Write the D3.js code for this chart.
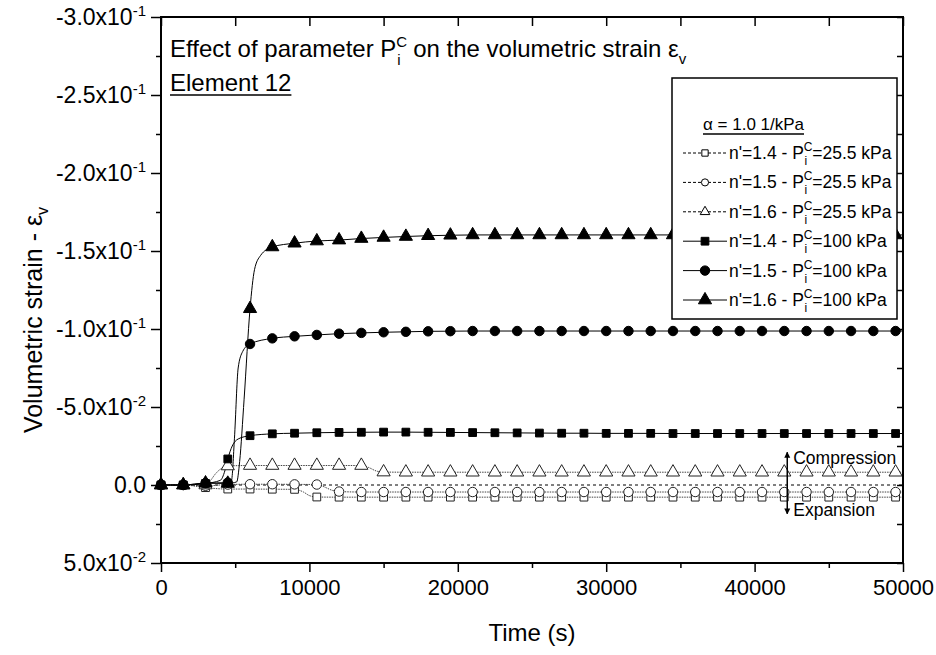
<!DOCTYPE html>
<html>
<head>
<meta charset="utf-8">
<title>Volumetric strain</title>
<script src="https://d3js.org/d3.v7.min.js"></script>
<style>
  body { margin: 0; background: #fff; }
  svg text { font-family: "Liberation Sans", Arial, sans-serif; fill: #000; }
</style>
</head>
<body>
<script>
// values: [time (s), volumetric strain] (negative = compression)
var sq25 = [[0,0],[1500,0],[3000,0.0017],[4500,0.0026],[6000,0.0026],[7500,0.0027],[9000,0.0028],[9600,0.0045],[10000,0.0068],[10500,0.0077],[12000,0.0078],[13500,0.0078],[15000,0.0078],[16500,0.0078],[18000,0.0078],[19500,0.0078],[21000,0.0078],[22500,0.0078],[24000,0.0078],[25500,0.0078],[27000,0.0078],[28500,0.0078],[30000,0.0078],[31500,0.0078],[33000,0.0078],[34500,0.0078],[36000,0.0078],[37500,0.0078],[39000,0.0078],[40500,0.0078],[42000,0.0078],[43500,0.0078],[45000,0.0078],[46500,0.0078],[48000,0.0078],[49500,0.0078],[50000,0.0078]];
var ci25 = [[0,0],[1500,0],[3000,0.0005],[4500,-0.0003],[6000,-0.0005],[7500,-0.0005],[9000,-0.0004],[10500,-0.0003],[11000,0.0012],[11500,0.0033],[12000,0.0042],[13500,0.0045],[15000,0.0045],[16500,0.0045],[18000,0.0045],[19500,0.0045],[21000,0.0045],[22500,0.0045],[24000,0.0045],[25500,0.0045],[27000,0.0045],[28500,0.0045],[30000,0.0045],[31500,0.0045],[33000,0.0045],[34500,0.0045],[36000,0.0045],[37500,0.0045],[39000,0.0045],[40500,0.0045],[42000,0.0045],[43500,0.0045],[45000,0.0045],[46500,0.0045],[48000,0.0045],[49500,0.0045],[50000,0.0045]];
var tr25 = [[0,0],[1500,0],[3000,0],[3300,-0.0025],[3700,-0.0075],[4100,-0.0108],[4500,-0.0122],[6000,-0.0125],[7500,-0.0125],[9000,-0.0125],[10500,-0.0125],[12000,-0.0125],[13500,-0.0125],[14000,-0.0112],[14500,-0.009],[15000,-0.0083],[16500,-0.0082],[18000,-0.0082],[19500,-0.0082],[21000,-0.0082],[22500,-0.0082],[24000,-0.0082],[25500,-0.0082],[27000,-0.0082],[28500,-0.0082],[30000,-0.0082],[31500,-0.0082],[33000,-0.0082],[34500,-0.0082],[36000,-0.0082],[37500,-0.0082],[39000,-0.0082],[40500,-0.0082],[42000,-0.0082],[43500,-0.0082],[45000,-0.0082],[46500,-0.0082],[48000,-0.0082],[49500,-0.0082],[50000,-0.0082]];
var sq100 = [[0,0],[1500,0],[3000,-0.001],[4000,-0.003],[4300,-0.009],[4500,-0.0167],[4800,-0.025],[5200,-0.0295],[6000,-0.0316],[7500,-0.0328],[9000,-0.0332],[10500,-0.0335],[12000,-0.0337],[13500,-0.0338],[15000,-0.0339],[16500,-0.0339],[18000,-0.0338],[19500,-0.0337],[21000,-0.0336],[22500,-0.0335],[24000,-0.0334],[25500,-0.0333],[27000,-0.0332],[28500,-0.0332],[30000,-0.0331],[31500,-0.0331],[33000,-0.0331],[34500,-0.033],[36000,-0.033],[37500,-0.033],[39000,-0.033],[40500,-0.033],[42000,-0.033],[43500,-0.033],[45000,-0.033],[46500,-0.033],[48000,-0.033],[49500,-0.033],[50000,-0.033]];
var ci100 = [[0,0],[1500,0],[3000,-0.0012],[4500,-0.0015],[4750,-0.003],[4950,-0.03],[5200,-0.075],[5500,-0.0855],[6000,-0.0904],[7500,-0.094],[9000,-0.0953],[10500,-0.0962],[12000,-0.097],[13500,-0.0975],[15000,-0.0979],[16500,-0.0982],[18000,-0.0985],[19500,-0.0986],[21000,-0.0987],[22500,-0.0987],[24000,-0.0987],[25500,-0.0987],[27000,-0.0987],[28500,-0.0987],[30000,-0.0987],[31500,-0.0987],[33000,-0.0987],[34500,-0.0987],[36000,-0.0987],[37500,-0.0987],[39000,-0.0987],[40500,-0.0987],[42000,-0.0987],[43500,-0.0987],[45000,-0.0987],[46500,-0.0987],[48000,-0.0987],[49500,-0.0987],[50000,-0.0987]];
var tr100 = [[0,0],[1500,0],[3000,-0.0012],[4500,-0.001],[5100,-0.002],[5300,-0.015],[5600,-0.055],[6000,-0.113],[6300,-0.138],[6700,-0.147],[7500,-0.1526],[9000,-0.155],[10500,-0.1564],[12000,-0.157],[13500,-0.158],[15000,-0.1587],[16500,-0.1593],[18000,-0.1598],[19500,-0.1601],[21000,-0.1603],[22500,-0.1603],[24000,-0.1603],[25500,-0.1603],[27000,-0.1603],[28500,-0.1603],[30000,-0.1603],[31500,-0.1603],[33000,-0.1603],[34500,-0.1603],[36000,-0.1603],[37500,-0.1603],[39000,-0.1603],[40500,-0.1603],[42000,-0.1603],[43500,-0.1603],[45000,-0.1603],[46500,-0.1603],[48000,-0.1603],[49500,-0.1603],[50000,-0.1603]];

var xTicks = [0, 10000, 20000, 30000, 40000, 50000];
var xMinor = [5000, 15000, 25000, 35000, 45000];
var yTicks = [-0.3, -0.25, -0.2, -0.15, -0.1, -0.05, 0, 0.05];
var yMinor = [-0.275, -0.225, -0.175, -0.125, -0.075, -0.025, 0.025];

var nVals = ["1.4", "1.5", "1.6", "1.4", "1.5", "1.6"];
var pVals = ["25.5", "25.5", "25.5", "100", "100", "100"];

var series = [
  { data: sq25, shape: d3.symbolSquare, filled: false, dashed: true },
  { data: ci25, shape: d3.symbolCircle, filled: false, dashed: true },
  { data: tr25, shape: d3.symbolTriangle, filled: false, dashed: true },
  { data: sq100, shape: d3.symbolSquare, filled: true, dashed: false },
  { data: ci100, shape: d3.symbolCircle, filled: true, dashed: false },
  { data: tr100, shape: d3.symbolTriangle, filled: true, dashed: false }
];

var width = 936, height = 655;
var pL = 161, pR = 903, pT = 17, pB = 563;

var svg = d3.select('body').append('svg')
  .attr('width', width)
  .attr('height', height);

var x = d3.scaleLinear().domain([0, 50000]).range([pL, pR]);
var y = d3.scaleLinear().domain([-0.3, 0.05]).range([pT, pB]);

// zero reference line
svg.append('line')
  .attr('x1', x(0)).attr('x2', x(50000))
  .attr('y1', y(0)).attr('y2', y(0))
  .attr('stroke', '#000')
  .attr('stroke-width', 1)
  .attr('stroke-dasharray', '3,3');

var line = d3.line()
  .x(function (d) { return x(d[0]); })
  .y(function (d) { return y(d[1]); })
  .curve(d3.curveMonotoneX);

series.forEach(function (s) {
  svg.append('path')
    .attr('d', line(s.data))
    .attr('fill', 'none')
    .attr('stroke', s.dashed ? '#444' : '#000')
    .attr('stroke-width', 1)
    .attr('stroke-dasharray', s.dashed ? '1.5,1' : null);
});

function symSize(shape) {
  if (shape === d3.symbolSquare) return 60;
  if (shape === d3.symbolCircle) return 70;
  return 75;
}

series.forEach(function (s) {
  svg.append('g').selectAll('path')
    .data(s.data.filter(function (d) { return d[0] % 1500 === 0 && d[0] < 50000; }))
    .enter()
    .append('path')
    .attr('transform', function (d) { return 'translate(' + x(d[0]) + ',' + y(d[1]) + ')'; })
    .attr('d', d3.symbol().type(s.shape).size(symSize(s.shape)))
    .attr('fill', s.filled ? '#000' : '#fff')
    .attr('stroke', s.filled ? '#000' : '#222')
    .attr('stroke-width', 1);
});

// axes
function styleAxis(g) {
  g.select('.domain').remove();
  g.selectAll('line').attr('stroke', '#000').attr('stroke-width', 1.5);
}

svg.append('g')
  .attr('transform', 'translate(0,' + pB + ')')
  .call(d3.axisBottom(x).tickValues(xTicks).tickSize(9).tickPadding(7).tickFormat(d3.format('d')))
  .call(styleAxis)
  .call(function (g) { g.selectAll('text').attr('font-size', 22).attr('font-family', '"Liberation Sans", Arial, sans-serif'); });
svg.append('g')
  .attr('transform', 'translate(0,' + pB + ')')
  .call(d3.axisBottom(x).tickValues(xMinor).tickSize(5).tickFormat(''))
  .call(styleAxis);

svg.append('g')
  .attr('transform', 'translate(0,' + pT + ')')
  .call(d3.axisTop(x).tickValues(xTicks.concat(xMinor)).tickSize(-9).tickFormat(''))
  .call(styleAxis);

svg.append('g')
  .attr('transform', 'translate(' + pL + ',0)')
  .call(d3.axisLeft(y).tickValues(yTicks).tickSize(10).tickPadding(5))
  .call(styleAxis)
  .call(function (g) {
    g.selectAll('text')
      .attr('font-size', 23)
      .attr('font-family', '"Liberation Sans", Arial, sans-serif')
      .each(function (v) {
        var t = d3.select(this).text(null);
        if (v === 0) { t.text('0.0'); return; }
        var e = Math.floor(Math.log10(Math.abs(v)) + 1e-9);
        var m = v / Math.pow(10, e);
        t.append('tspan').text(m.toFixed(1) + 'x10');
        t.append('tspan').attr('dy', -9).attr('font-size', 15).text(e);
      });
  });
svg.append('g')
  .attr('transform', 'translate(' + pL + ',0)')
  .call(d3.axisLeft(y).tickValues(yMinor).tickSize(5).tickFormat(''))
  .call(styleAxis);

svg.append('g')
  .attr('transform', 'translate(' + pR + ',0)')
  .call(d3.axisRight(y).tickValues(yTicks.concat(yMinor)).tickSize(-6).tickFormat(''))
  .call(styleAxis);

// frame
svg.append('rect')
  .attr('x', pL).attr('y', pT)
  .attr('width', pR - pL).attr('height', pB - pT)
  .attr('fill', 'none')
  .attr('stroke', '#000')
  .attr('stroke-width', 2);

// axis titles
svg.append('text')
  .attr('x', (pL + pR) / 2).attr('y', 641)
  .attr('text-anchor', 'middle')
  .attr('font-size', 24)
  .text('Time (s)');

var yt = svg.append('text')
  .attr('transform', 'translate(42,320) rotate(-90)')
  .attr('text-anchor', 'middle')
  .attr('font-size', 25);
yt.append('tspan').text('Volumetric strain - \u03b5');
yt.append('tspan').attr('font-size', 16).attr('dy', 6).text('v');

// title inside the plot
var title = svg.append('text')
  .attr('x', 170).attr('y', 57)
  .attr('font-size', 24);
title.append('tspan').text('Effect of parameter P');
title.append('tspan').attr('font-size', 15).attr('dy', -10).text('C');
title.append('tspan').attr('font-size', 15).attr('dx', -10).attr('dy', 18).text('i');
title.append('tspan').attr('dx', 6).attr('dy', -8).text(' on the volumetric strain \u03b5');
title.append('tspan').attr('font-size', 15).attr('dy', 7).text('v');

var el = svg.append('text')
  .attr('x', 170).attr('y', 91)
  .attr('font-size', 24)
  .text('Element 12');
var elw = el.node().getComputedTextLength();
svg.append('line')
  .attr('x1', 170).attr('x2', 170 + elw)
  .attr('y1', 95).attr('y2', 95)
  .attr('stroke', '#000').attr('stroke-width', 1.5);

// compression / expansion arrow
var ax = x(42200);
svg.append('defs').append('marker')
  .attr('id', 'head')
  .attr('viewBox', '0 0 10 10')
  .attr('refX', 9).attr('refY', 5)
  .attr('markerWidth', 6).attr('markerHeight', 8)
  .attr('markerUnits', 'userSpaceOnUse')
  .attr('orient', 'auto-start-reverse')
  .append('path')
  .attr('d', 'M0,0L10,5L0,10Z')
  .attr('fill', '#000');
svg.append('line')
  .attr('x1', ax).attr('x2', ax)
  .attr('y1', y(-0.021)).attr('y2', y(0.0185))
  .attr('stroke', '#000').attr('stroke-width', 1.5)
  .attr('marker-start', 'url(#head)')
  .attr('marker-end', 'url(#head)');
svg.append('text').attr('x', ax + 6).attr('y', 464).attr('font-size', 17.5).text('Compression');
svg.append('text').attr('x', ax + 6).attr('y', 516).attr('font-size', 17.5).text('Expansion');

// legend
var lg = svg.append('g');
lg.append('rect')
  .attr('x', 672).attr('y', 78)
  .attr('width', 225).attr('height', 241)
  .attr('fill', '#fff')
  .attr('stroke', '#000')
  .attr('stroke-width', 1.5);

var at = lg.append('text')
  .attr('x', 703).attr('y', 130)
  .attr('font-size', 17)
  .text('\u03b1 = 1.0 1/kPa');
var atw = at.node().getComputedTextLength();
lg.append('line')
  .attr('x1', 703).attr('x2', 703 + atw)
  .attr('y1', 134).attr('y2', 134)
  .attr('stroke', '#000').attr('stroke-width', 1.5);

series.forEach(function (s, i) {
  var cy = 153 + i * 29.4;
  lg.append('line')
    .attr('x1', 683).attr('x2', 727)
    .attr('y1', cy).attr('y2', cy)
    .attr('stroke', '#000').attr('stroke-width', 1)
    .attr('stroke-dasharray', s.dashed ? '3,2' : null);
  lg.append('path')
    .attr('transform', 'translate(705,' + cy + ')')
    .attr('d', d3.symbol().type(s.shape).size(s.filled ? symSize(s.shape) : 40))
    .attr('fill', s.filled ? '#000' : '#fff')
    .attr('stroke', '#000').attr('stroke-width', 1);
  var t = lg.append('text')
    .attr('x', 729).attr('y', cy + 6)
    .attr('font-size', 17.5);
  t.append('tspan').text("n'=" + nVals[i] + ' - P');
  t.append('tspan').attr('font-size', 12).attr('dy', -8).text('C');
  t.append('tspan').attr('font-size', 12).attr('dx', -8).attr('dy', 14).text('i');
  t.append('tspan').attr('dx', 5).attr('dy', -6).text('=' + pVals[i] + ' kPa');
});
</script>
</body>
</html>
